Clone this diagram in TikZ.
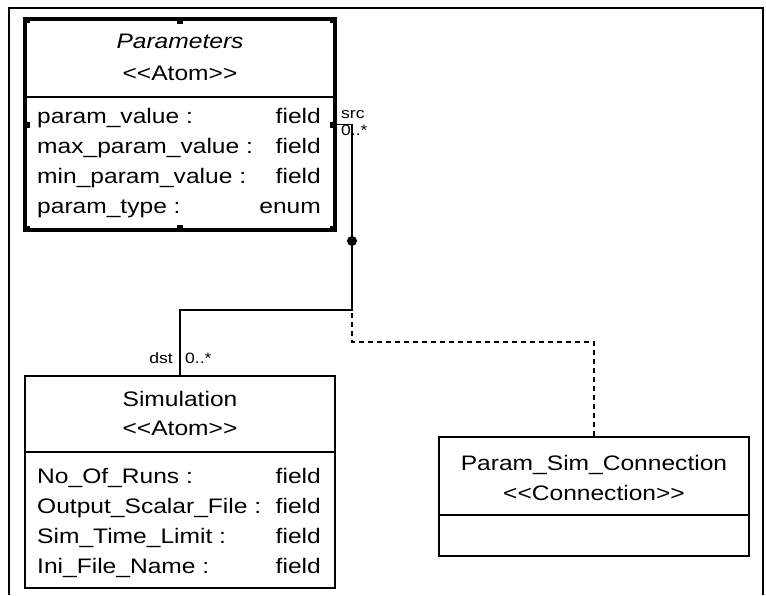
\documentclass[tikz,border=0pt]{standalone}
\usepackage{fontspec}
\setmainfont{Liberation Sans}[FakeStretch=1.17]
\usetikzlibrary{calc}
% guillemet-free stereotype brackets
\newcommand{\stereo}[1]{<\kern0pt<#1>\kern0pt>}
\tikzset{
  frameline/.style={line width=2pt},
  classbox/.style={draw, line width=1.5pt, anchor=north west, inner sep=0pt, outer sep=0pt},
  selbox/.style={classbox, line width=3.5pt},
  sepline/.style={line width=1.3pt},
  txt/.style={inner sep=0pt, font=\fontsize{21}{25}\selectfont},
  tag/.style={inner sep=0pt, font=\fontsize{15}{17}\selectfont},
  handle/.style={fill=black, minimum size=6pt, inner sep=0pt},
  conn/.style={line width=1.3pt},
  dconn/.style={line width=1.3pt, dash pattern=on 5pt off 4pt},
}
\begin{document}
\begin{tikzpicture}[x=1pt,y=-1pt]
\useasboundingbox (0,0) rectangle (766,595);
\fill[white] (0,0) rectangle (766,595);

% window frame
\draw[frameline] (9,595) -- (9,8) -- (763,8) -- (763,595);

% Parameters (selected, with handles)
\node[selbox, minimum width=310pt, minimum height=211pt] (params) at (25,19) {};
\draw[sepline] (25,97) -- (335,97);
\node[txt, anchor=base] (ptitle) at (180,48) {\itshape Parameters};
\node[txt, anchor=base] (pster) at (180,80) {\stereo{Atom}};
\foreach \n/\t/\v/\y in {pa/param\_value :/field/123,
                         pb/max\_param\_value :/field/153,
                         pc/min\_param\_value :/field/183,
                         pd/param\_type :/enum/213} {
  \node[txt, anchor=base west] (\n l) at (37,\y) {\t};
  \node[txt, anchor=base east] (\n r) at (321,\y) {\v};
}
\foreach \a in {north west, north, north east, east, south east, south, south west, west}
  \node[handle] at ($(params.\a)!2pt!(params.center)$) {};

% Simulation
\node[classbox, minimum width=310pt, minimum height=212pt] (sim) at (25,376) {};
\draw[sepline] (25,452) -- (335,452);
\node[txt, anchor=base] (stitle) at (180,406) {Simulation};
\node[txt, anchor=base] (sster) at (180,435) {\stereo{Atom}};
\foreach \n/\t/\y in {sa/No\_Of\_Runs :/483,
                      sb/Output\_Scalar\_File :/513,
                      sc/Sim\_Time\_Limit :/543,
                      sd/Ini\_File\_Name :/573} {
  \node[txt, anchor=base west] (\n l) at (37,\y) {\t};
  \node[txt, anchor=base east] (\n r) at (321,\y) {field};
}

% Param_Sim_Connection
\node[classbox, minimum width=310pt, minimum height=119pt] (psc) at (439,437) {};
\draw[sepline] (439,515) -- (749,515);
\node[txt, anchor=base] (ctitle) at (594,470) {Param\_Sim\_Connection};
\node[txt, anchor=base] (cster) at (594,500) {\stereo{Connection}};

% connection Parameters -> Simulation with its junction
\coordinate (j) at (352,241);
\draw[conn] (params.east) -| (j);
\draw[conn] (j) -- (j |- 0,310) -| (sim.north);
\draw[dconn] (j) -- (j |- 0,342) -| (psc.north);
\fill (j) circle (5pt);

% role labels
\node[tag, anchor=base west] (src) at (341,118) {src};
\node[tag, anchor=base west] (srcm) at (341,135) {0..*};
\node[tag, anchor=base east] (dst) at (173,363) {dst};
\node[tag, anchor=base west] (dstm) at (185,363) {0..*};
\end{tikzpicture}
\end{document}
